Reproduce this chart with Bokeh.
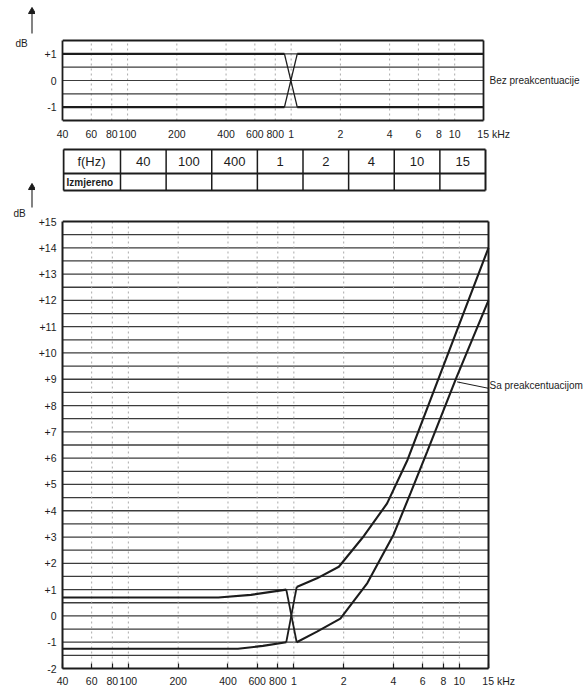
import numpy as np
from bokeh.plotting import figure
from bokeh.models import FixedTicker, Range1d, LinearScale
from bokeh.layouts import column, row
from bokeh.embed import file_html
from bokeh.resources import INLINE
from bokeh.core.properties import value

FONT = "Liberation Sans"
INK = "#1c1c1c"
GRID = "#3c3c3c"
VGRID = "#a0a0a0"

# ---------------- data ----------------
freq_ticks = [40, 60, 80, 100, 200, 400, 600, 800, 1000, 2000, 4000, 6000, 8000, 10000, 15000]
freq_labels = ["40", "60", "80", "100", "200", "400", "600", "800", "1", "2", "4", "6", "8", "10", "15"]
unit_x = "kHz"
unit_y = "dB"

top_db_ticks = [1, 0, -1]
top_db_labels = ["+1", "0", "-1"]

main_db_ticks = list(range(-2, 16))
main_db_labels = [("+%d" % d) if d > 0 else str(d) for d in main_db_ticks]

# upper chart: "Bez preakcentuacije" tolerance lines
bez_f = [40, 910, 1090, 15000]
bez_hi = [1, 1, 1, 1]
bez_lo = [-1, -1, -1, -1]

# lower chart: "Sa preakcentuacijom" tolerance curves
upper_left_f = [40, 350, 550, 900]
upper_left_db = [0.7, 0.7, 0.8, 1.0]
upper_right_f = [1040, 1380, 1870, 2650, 3660, 4860, 15000]
upper_right_db = [1.1, 1.43, 1.87, 3.04, 4.28, 5.93, 14.0]
lower_left_f = [40, 460, 650, 900]
lower_left_db = [-1.25, -1.25, -1.14, -1.0]
lower_right_f = [1040, 1380, 1910, 2780, 4010, 5070, 6400, 9570, 15000]
lower_right_db = [-1.0, -0.6, -0.1, 1.25, 3.1, 4.67, 6.26, 9.04, 12.0]

table_header = "f(Hz)"
table_freqs = ["40", "100", "400", "1", "2", "4", "10", "15"]
table_row = "Izmjereno"

label_top = "Bez preakcentuacije"
label_main = "Sa preakcentuacijom"

# ---------------- layout constants ----------------
PAGE_W, PAGE_H = 587, 690
STRIP_W = 35
CW = PAGE_W - STRIP_W          # chart figures width
LB = 27                        # left border (tick labels)
FW = CW - LB                   # frame width (reaches the right edge)
F0, F1 = freq_ticks[0], freq_ticks[-1]
DEC = np.log10(F1) - np.log10(F0)

NBSP = "\u00a0"
overrides = {f: l for f, l in zip(freq_ticks, freq_labels)}
overrides[F1] = NBSP * 7 + freq_labels[-1] + " " + unit_x


def style_axis_text(ax, size="10.5px"):
    ax.major_label_text_font = FONT
    ax.major_label_text_font_size = size
    ax.major_label_text_color = INK


def no_ticks(ax):
    ax.major_tick_in = 0
    ax.major_tick_out = 0
    ax.minor_tick_in = 0
    ax.minor_tick_out = 0
    ax.major_tick_line_color = None
    ax.minor_tick_line_color = None


def base_fig(w, h, xr, yr, top, bottom, left):
    p = figure(width=w, height=h, x_axis_type="log",
               x_range=xr, y_range=yr,
               min_border_left=left, min_border_right=0,
               min_border_top=top, min_border_bottom=bottom,
               toolbar_location=None, output_backend="svg")
    p.outline_line_color = None
    p.background_fill_color = "white"
    p.border_fill_color = "white"
    p.xgrid.visible = False
    p.ygrid.visible = False
    return p


# ================= left strip: "dB" marks with arrows =================
p0 = figure(width=STRIP_W, height=PAGE_H, x_range=Range1d(0, STRIP_W), y_range=Range1d(PAGE_H, 0),
            min_border=0, x_axis_location=None, y_axis_location=None,
            toolbar_location=None, output_backend="svg")
p0.outline_line_color = None
p0.grid.visible = False
p0.background_fill_color = "white"
p0.border_fill_color = "white"
p0.text(x=[21, 19], y=[43, 213], text=[unit_y, unit_y], text_font=value(FONT),
        text_font_size="10px", text_color=INK, text_align="center", text_baseline="middle")
p0.segment(x0=[31.5, 31.5], y0=[33, 207], x1=[31.5, 31.5], y1=[12, 188], line_color=INK, line_width=1.1)
p0.scatter(x=[31.5, 31.5], y=[11, 187], marker="triangle", size=7, fill_color=INK, line_color=INK)

# ================= upper chart =================
H1, T1, FH1 = 145, 38, 84
PX_DEC1 = 421 / DEC
PX_DB1 = 80 / 3.0
pad1 = 2 / PX_DB1
p1 = base_fig(CW, H1, Range1d(F0, 10 ** (np.log10(F0) + FW / PX_DEC1)),
              Range1d(-1.5 - pad1, 1.5 + pad1), T1, H1 - T1 - FH1, LB)

p1.xaxis.ticker = FixedTicker(ticks=freq_ticks, minor_ticks=[])
p1.xaxis.major_label_overrides = overrides
p1.xaxis.axis_line_color = None
no_ticks(p1.xaxis)
p1.xaxis.major_label_standoff = 5
style_axis_text(p1.xaxis)

p1.yaxis.ticker = FixedTicker(ticks=top_db_ticks, minor_ticks=[])
p1.yaxis.major_label_overrides = dict(zip(top_db_ticks, top_db_labels))
p1.yaxis.bounds = (-1.5, 1.5)
p1.yaxis.axis_line_color = INK
p1.yaxis.axis_line_width = 1.8
no_ticks(p1.yaxis)
p1.yaxis.major_label_standoff = 6
style_axis_text(p1.yaxis)

# grid of the upper chart
vf = freq_ticks[1:-1]
p1.segment(x0=vf, y0=[-1.5] * len(vf), x1=vf, y1=[1.5] * len(vf),
           line_color=VGRID, line_width=0.9, line_dash="2 3")
lv1 = [-1, -0.5, 0, 0.5, 1]
p1.multi_line(xs=[[F0, F1]] * len(lv1), ys=[[v, v] for v in lv1], line_color=GRID, line_width=1.2)
p1.segment(x0=[F0, F0, F1], y0=[1.5, -1.5, -1.5], x1=[F1, F1, F1], y1=[1.5, -1.5, 1.5],
           line_color=INK, line_width=1.8)

for ys in (bez_hi, bez_lo):
    p1.line(bez_f[:2], ys[:2], line_color=INK, line_width=2.4)
    p1.line(bez_f[2:], ys[2:], line_color=INK, line_width=2.4)
p1.segment(x0=[bez_f[1], bez_f[1]], y0=[bez_hi[1], bez_lo[1]],
           x1=[bez_f[2], bez_f[2]], y1=[bez_lo[2], bez_hi[2]],
           line_color=INK, line_width=1.3)
p1.text(x=[10 ** (np.log10(F1) + 6 / PX_DEC1)], y=[0], text=[label_top],
        text_font=value(FONT), text_font_size="10px", text_color=INK,
        text_align="left", text_baseline="middle")

# ================= table + main chart =================
H2 = PAGE_H - H1             # 545
FH2 = 523                    # frame: page y 145 .. 668
PX_DB = 447.0 / 17.0         # px per dB
PX_DEC = 426.0 / DEC         # px per decade
main_top = 15 + 76 / PX_DB   # frame top is 76 px above the +15 line

p2 = base_fig(CW, H2, Range1d(F0, 10 ** (np.log10(F0) + FW / PX_DEC)),
              Range1d(main_db_ticks[0], main_top), 0, H2 - FH2, LB)
p2.extra_x_ranges = {"tbl": Range1d(0, FW)}
p2.extra_x_scales = {"tbl": LinearScale()}
p2.extra_y_ranges = {"tbl": Range1d(FH2, 0)}

p2.xaxis.ticker = FixedTicker(ticks=freq_ticks, minor_ticks=[])
p2.xaxis.major_label_overrides = overrides
p2.xaxis.bounds = (F0, F1)
p2.xaxis.axis_line_color = INK
p2.xaxis.axis_line_width = 2
p2.xaxis.major_tick_in = 5
p2.xaxis.major_tick_out = 0
p2.xaxis.minor_tick_in = 0
p2.xaxis.minor_tick_out = 0
p2.xaxis.major_tick_line_color = INK
p2.xaxis.major_tick_line_width = 1.2
p2.xaxis.minor_tick_line_color = None
p2.xaxis.major_label_standoff = 6
style_axis_text(p2.xaxis)

p2.yaxis.ticker = FixedTicker(ticks=main_db_ticks, minor_ticks=[])
p2.yaxis.major_label_overrides = dict(zip(main_db_ticks, main_db_labels))
p2.yaxis.bounds = (main_db_ticks[0], main_db_ticks[-1])
p2.yaxis.axis_line_color = INK
p2.yaxis.axis_line_width = 2
no_ticks(p2.yaxis)
p2.yaxis.major_label_standoff = 6
style_axis_text(p2.yaxis)

# horizontal lines every 0.5 dB
levels = np.arange(main_db_ticks[0] + 0.5, main_db_ticks[-1], 0.5)
p2.multi_line(xs=[[F0, F1]] * len(levels), ys=[[v, v] for v in levels],
              line_color=GRID, line_width=1.3)
# faint vertical lines
p2.segment(x0=vf, y0=[main_db_ticks[0]] * len(vf), x1=vf, y1=[main_db_ticks[-1]] * len(vf),
           line_color=VGRID, line_width=0.9, line_dash="2 3")
# top and right border
p2.segment(x0=[F0, F1], y0=[main_db_ticks[-1], main_db_ticks[0]],
           x1=[F1, F1], y1=[main_db_ticks[-1], main_db_ticks[-1]],
           line_color=INK, line_width=2)

# curves
for fx, dy in ((upper_left_f, upper_left_db), (upper_right_f, upper_right_db),
               (lower_left_f, lower_left_db), (lower_right_f, lower_right_db)):
    p2.line(fx, dy, line_color=INK, line_width=2.1)
p2.segment(x0=[upper_left_f[-1], lower_left_f[-1]], y0=[upper_left_db[-1], lower_left_db[-1]],
           x1=[lower_right_f[0], upper_right_f[0]], y1=[lower_right_db[0], upper_right_db[0]],
           line_color=INK, line_width=1.8)

# label of the lower chart with its leader line
p2.segment(x0=[9700], y0=[8.9], x1=[14900], y1=[8.66], line_color=INK, line_width=1)
p2.text(x=[10 ** (np.log10(F1) + 1 / PX_DEC)], y=[8.76], text=[label_main],
        text_font=value(FONT), text_font_size="10px", text_color=INK,
        text_align="left", text_baseline="middle")

# table (pixel coordinates relative to the frame's top-left)
first_w = 58
col_w = (423 - first_w) / len(table_freqs)
tx0, tx1 = 1, 423
ty0, tym, ty1 = 4, 28, 45
edges = [first_w + i * col_w for i in range(1, len(table_freqs))]
p2.segment(x0=[tx0, tx0, tx0, tx0, tx1], y0=[ty0, tym, ty1, ty0, ty0],
           x1=[tx1, tx1, tx1, tx0, tx1], y1=[ty0, tym, ty1, ty1, ty1],
           x_range_name="tbl", y_range_name="tbl", line_color=INK, line_width=2)
p2.segment(x0=[first_w] + edges, y0=[ty0] * (len(edges) + 1),
           x1=[first_w] + edges, y1=[ty1] * (len(edges) + 1),
           x_range_name="tbl", y_range_name="tbl", line_color=INK, line_width=1.5)
centers = [first_w + (i + 0.5) * col_w for i in range(len(table_freqs))]
p2.text(x=centers, y=[(ty0 + tym) / 2] * len(centers), text=table_freqs,
        x_range_name="tbl", y_range_name="tbl",
        text_font=value(FONT), text_font_size="13px", text_color=INK,
        text_align="center", text_baseline="middle")
p2.text(x=[first_w / 2], y=[(ty0 + tym) / 2], text=[table_header],
        x_range_name="tbl", y_range_name="tbl",
        text_font=value(FONT), text_font_size="13px", text_color=INK,
        text_align="center", text_baseline="middle")
p2.text(x=[4], y=[(tym + ty1) / 2 + 0.5], text=[table_row],
        x_range_name="tbl", y_range_name="tbl",
        text_font=value(FONT), text_font_size="10px", text_font_style="bold",
        text_color=INK, text_align="left", text_baseline="middle")

layout = row(p0, column(p1, p2, spacing=0), spacing=0)
open("out.html", "w").write(file_html(layout, INLINE))
